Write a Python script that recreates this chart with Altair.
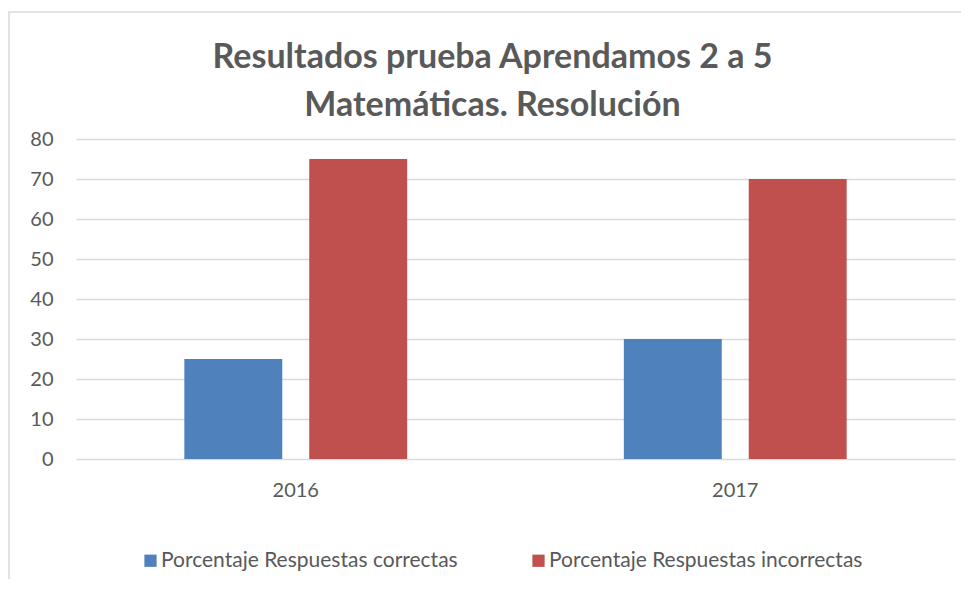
import altair as alt
import pandas as pd

years = ["2016", "2017"]
correctas = [25, 30]
incorrectas = [75, 70]
series = ["Porcentaje Respuestas correctas", "Porcentaje Respuestas incorrectas"]
colors = ["#4F81BD", "#C0504D"]

rows = []
for i, y in enumerate(years):
    rows.append({"year": y, "serie": series[0], "valor": correctas[i]})
    rows.append({"year": y, "serie": series[1], "valor": incorrectas[i]})
df = pd.DataFrame(rows)

FONT = "Lato"
GRAY = "#595959"

bars = alt.Chart(df).mark_bar().encode(
    x=alt.X("year:N", title=None,
            scale=alt.Scale(paddingInner=0.493, paddingOuter=0.2465),
            axis=alt.Axis(labelAngle=0, ticks=False, domain=False,
                          labelFontSize=20, labelColor=GRAY, labelFont=FONT,
                          labelPadding=21)),
    xOffset=alt.XOffset("serie:N", sort=series,
                        scale=alt.Scale(paddingInner=0.216, paddingOuter=0)),
    y=alt.Y("valor:Q", title=None,
            scale=alt.Scale(domain=[0, 80]),
            axis=alt.Axis(values=[0, 10, 20, 30, 40, 50, 60, 70, 80],
                          ticks=False, domain=False, gridColor="#D9D9D9",
                          gridWidth=1.5,
                          labelFontSize=20, labelColor=GRAY, labelFont=FONT,
                          labelPadding=23)),
    color=alt.Color("serie:N", sort=series,
                    scale=alt.Scale(domain=series, range=colors),
                    legend=alt.Legend(title=None, orient="none",
                                      direction="horizontal",
                                      legendX=64, legendY=411,
                                      symbolType="square", symbolSize=150,
                                      symbolStrokeWidth=0,
                                      labelFontSize=21, labelColor=GRAY,
                                      labelFont=FONT, labelLimit=400,
                                      columnPadding=70, labelOffset=0)),
)

border = alt.Chart(pd.DataFrame({"a": [0]})).mark_rect(
    fill=None, stroke="#D9D9D9", strokeWidth=1.5, clip=False
).encode(
    x=alt.value(-67), x2=alt.value(1100),
    y=alt.value(-127), y2=alt.value(600),
)

chart = alt.layer(border, bars).properties(
    width=879, height=320,
    padding={"left": 68, "top": 131, "right": 6, "bottom": 120},
    autosize=alt.AutoSizeParams(type="none"),
    title=alt.Title(["Resultados prueba Aprendamos 2 a 5", "Matemáticas. Resolución"],
                    fontSize=34, font=FONT, fontWeight="bold", color=GRAY,
                    anchor="middle", frame="group", dx=-23, offset=0, dy=112,
                    lineHeight=48),
).configure_view(stroke=None)

chart.save("out.html", embed_options={"renderer": "svg", "actions": False})
